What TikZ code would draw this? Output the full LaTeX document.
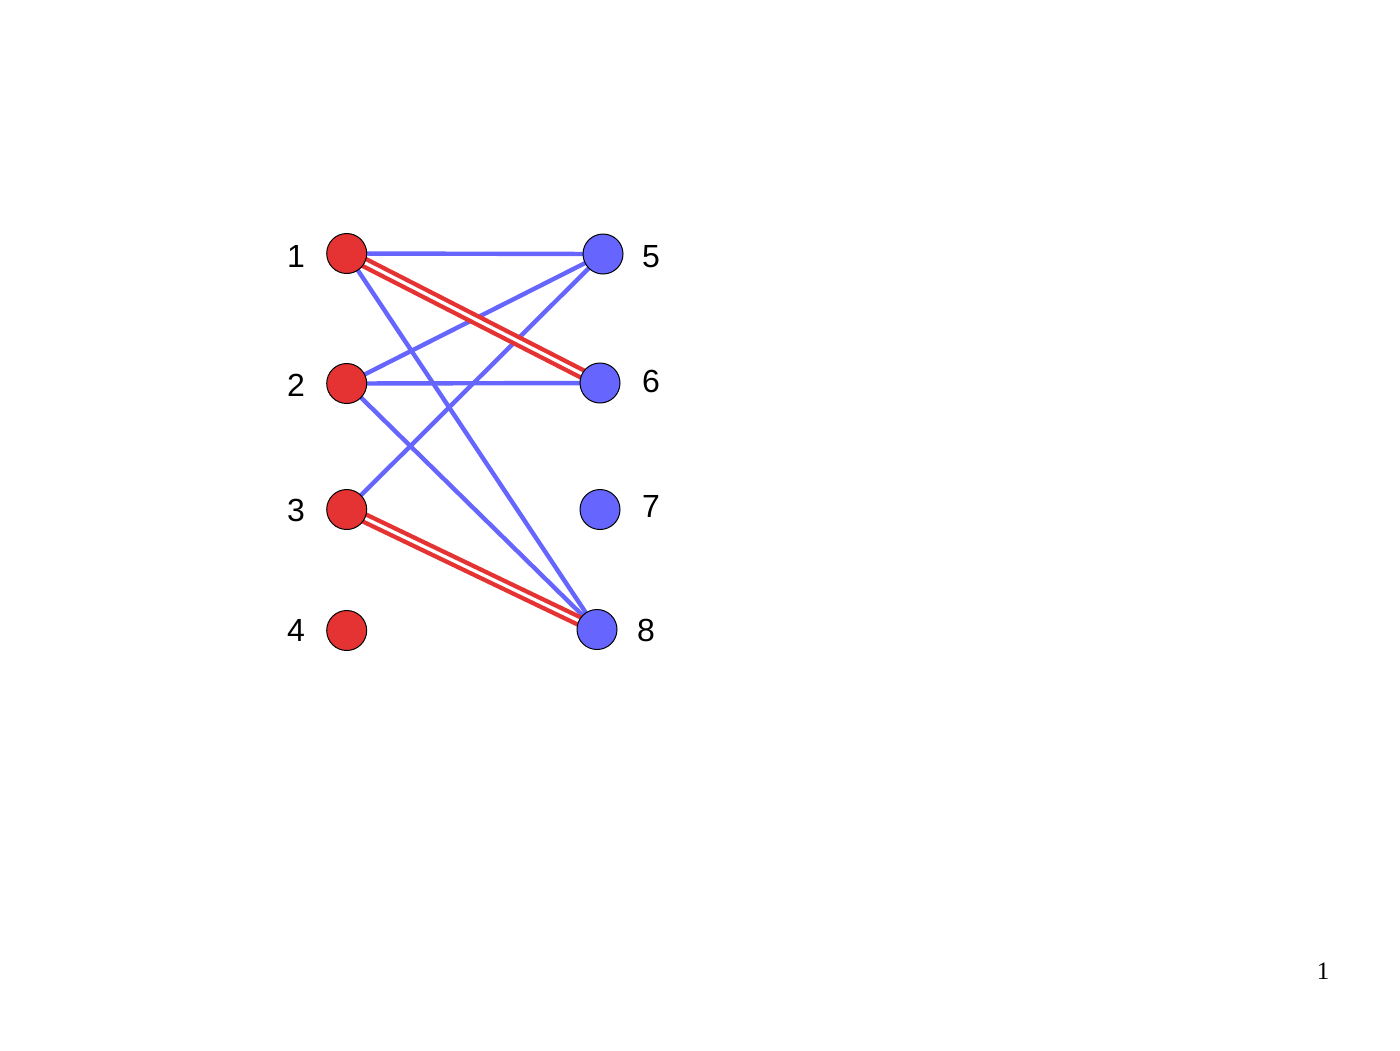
\documentclass[tikz,border=0pt]{standalone}
\usepackage{fontspec}
\setmainfont{Liberation Sans}
\newfontfamily\pagefont{Liberation Serif}
\usetikzlibrary{backgrounds}
\definecolor{nred}{RGB}{229,51,51}
\definecolor{nblue}{RGB}{102,102,255}
\begin{document}
\begin{tikzpicture}[x=0.5pt,y=-0.5pt,
  vred/.style={circle,draw=black,line width=0.5pt,fill=nred,minimum size=20pt,inner sep=0pt},
  vblue/.style={circle,draw=black,line width=0.5pt,fill=nblue,minimum size=20pt,inner sep=0pt},
  lbl/.style={font=\fontsize{16pt}{19pt}\selectfont,inner sep=0pt},
  bedge/.style={draw=nblue,line width=2.2pt},
  redge/.style={draw=nred,line width=2.2pt,double=white,double distance=1.6pt}]
\path[use as bounding box] (0,0) rectangle (1400,1050);
\node[vred] (n1) at (346.7,253.5) {};
\node[vred] (n2) at (346.7,383.5) {};
\node[vred] (n3) at (346.7,509.5) {};
\node[vred] (n4) at (346.7,630.5) {};
\node[vblue] (n5) at (603,254) {};
\node[vblue] (n6) at (600,383) {};
\node[vblue] (n7) at (600,509.5) {};
\node[vblue] (n8) at (597,629.5) {};
\begin{scope}[on background layer]
\draw[bedge] (n1.center) -- (n5.center);
\draw[bedge] (n1.center) -- (n8.center);
\draw[bedge] (n2.center) -- (n5.center);
\draw[bedge] (n2.center) -- (n6.center);
\draw[bedge] (n2.center) -- (n8.center);
\draw[bedge] (n3.center) -- (n5.center);
\draw[redge] (n1.center) -- (n6.center);
\draw[redge] (n3.center) -- (n8.center);
\end{scope}
\node[lbl] (l1) at (296,256) {1};
\node[lbl] (l2) at (296,385) {2};
\node[lbl] (l3) at (296,510) {3};
\node[lbl] (l4) at (296,630) {4};
\node[lbl] (l5) at (651,256.5) {5};
\node[lbl] (l6) at (651,381) {6};
\node[lbl] (l7) at (651,506) {7};
\node[lbl] (l8) at (646,630) {8};
\node[font=\pagefont\fontsize{12.5pt}{15pt}\selectfont,inner sep=0pt] (pg) at (1323,971) {1};
\end{tikzpicture}
\end{document}
